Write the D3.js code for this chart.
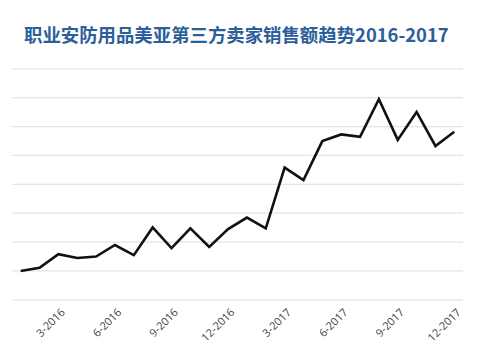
<!doctype html>
<html>
<head>
<meta charset="UTF-8">
<title>职业安防用品美亚第三方卖家销售额趋势</title>
<script src="https://d3js.org/d3.v7.min.js"></script>
<style>
body { margin: 0; background: #fff; }
.grid line { stroke: #e6e3e6; stroke-width: 1.3; }
.grid path { display: none; }
.xaxis path, .xaxis line { display: none; }
.xaxis text { fill: #3f3f3f; font-family: "Open Sans", sans-serif; font-size: 11px; }
</style>
</head>
<body>
<script>
// monthly sales index, Jan 2016 .. Dec 2017
var months = ["1-2016","2-2016","3-2016","4-2016","5-2016","6-2016","7-2016","8-2016","9-2016","10-2016","11-2016","12-2016",
              "1-2017","2-2017","3-2017","4-2017","5-2017","6-2017","7-2017","8-2017","9-2017","10-2017","11-2017","12-2017"];
var sales = [0.98, 1.09, 1.56, 1.43, 1.48, 1.88, 1.53, 2.49, 1.77, 2.46, 1.81, 2.43,
             2.83, 2.46, 4.56, 4.13, 5.48, 5.71, 5.63, 6.93, 5.52, 6.49, 5.31, 5.80];
var tickLabels = ["3-2016","6-2016","9-2016","12-2016","3-2017","6-2017","9-2017","12-2017"];
var gridValues = [0, 1, 2, 3, 4, 5, 6, 7, 8];

var W = 495, H = 359;
var plotLeft = 12, plotRight = 463, plotTop = 68.3, plotBottom = 299.3;

var svg = d3.select("body").append("svg")
    .attr("width", W)
    .attr("height", H);

// title
svg.append("text")
    .attr("x", 24)
    .attr("y", 42)
    .attr("fill", "#2c5f99")
    .style("font-family", "'Noto Sans CJK SC', sans-serif")
    .style("font-weight", "bold")
    .style("font-size", "18.4px")
    .text("职业安防用品美亚第三方卖家销售额趋势2016-2017");

var x = d3.scalePoint()
    .domain(months)
    .range([20.7, 454.3]);

var y = d3.scaleLinear()
    .domain([0, 8])
    .range([plotBottom, plotTop]);

// horizontal gridlines
svg.append("g")
    .attr("class", "grid")
    .attr("transform", "translate(" + plotLeft + ",0)")
    .call(d3.axisRight(y).tickValues(gridValues).tickSize(plotRight - plotLeft).tickFormat(""));

// x axis labels, rotated
svg.append("g")
    .attr("class", "xaxis")
    .attr("transform", "translate(0," + plotBottom + ")")
    .call(d3.axisBottom(x).tickValues(tickLabels).tickSize(0))
    .selectAll("text")
    .attr("text-anchor", "end")
    .attr("transform", "translate(4,11)rotate(-45)")
    .attr("dy", "0.35em")
    .attr("y", 0)
    .attr("x", 0);

// line
var line = d3.line()
    .x(function(d, i) { return x(months[i]); })
    .y(function(d) { return y(d); });

svg.append("path")
    .attr("d", line(sales))
    .attr("fill", "none")
    .attr("stroke", "#111")
    .attr("stroke-width", 2.6)
    .attr("stroke-linejoin", "miter");
</script>
</body>
</html>
